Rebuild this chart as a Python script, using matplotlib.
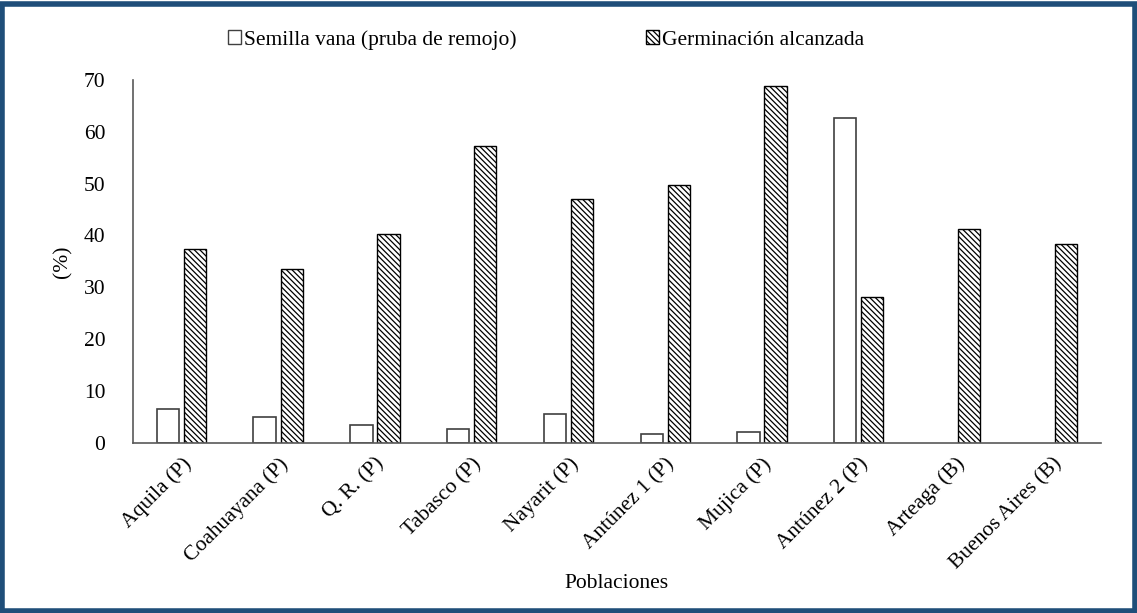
import matplotlib.pyplot as plt
import numpy as np
from matplotlib.patches import Rectangle, Patch

plt.rcParams['font.family'] = ['Liberation Serif', 'DejaVu Serif']
plt.rcParams['hatch.linewidth'] = 0.9

poblaciones = ['Aquila (P)', 'Coahuayana (P)', 'Q. R. (P)', 'Tabasco (P)', 'Nayarit (P)',
               'Antúnez 1 (P)', 'Mujica (P)', 'Antúnez 2 (P)', 'Arteaga (B)', 'Buenos Aires (B)']
semilla_vana = [6.6, 5.0, 3.6, 2.7, 5.6, 1.8, 2.1, 62.7, 0, 0]
germinacion = [37.4, 33.6, 40.3, 57.3, 47.0, 49.7, 68.8, 28.2, 41.3, 38.4]
yticks = [0, 10, 20, 30, 40, 50, 60, 70]

fig = plt.figure(figsize=(11.37, 6.13), dpi=100)
ax = fig.add_axes([0.117, 0.277, 0.851, 0.593])

x = np.arange(len(poblaciones))
w = 0.23
gap = 0.025
vana_edges = ['#404040' if v > 0 else 'none' for v in semilla_vana]
ax.bar(x - w / 2 - gap, semilla_vana, w, facecolor='white', edgecolor=vana_edges, linewidth=1.2,
       label='Semilla vana (pruba de remojo)')
ax.bar(x + w / 2 + gap, germinacion, w, facecolor='white', edgecolor='black', linewidth=1.0,
       hatch='\\\\\\\\\\\\', label='Germinación alcanzada')

ax.set_xlim(-0.5, len(poblaciones) - 0.5)
ax.set_ylim(0, 70)
ax.set_yticks(yticks)
ax.set_xticks(x)
ax.set_xticklabels(poblaciones, rotation=45, ha='right', rotation_mode='anchor')
ax.tick_params(axis='both', length=0, labelsize=15.5, colors='black')
ax.tick_params(axis='y', pad=20)
ax.tick_params(axis='x', pad=8)
for s in ['top', 'right']:
    ax.spines[s].set_visible(False)
for s in ['left', 'bottom']:
    ax.spines[s].set_color('#595959')
    ax.spines[s].set_linewidth(1.2)

ax.set_xlabel('Poblaciones', fontsize=15.5, labelpad=0)
ax.set_ylabel('(%)', fontsize=15.5, labelpad=8)

handles = [Patch(facecolor='white', edgecolor='#404040', linewidth=1.0),
           Patch(facecolor='white', edgecolor='black', hatch='\\\\\\\\\\\\', linewidth=1.0)]
fig.legend(handles, ['Semilla vana (pruba de remojo)', 'Germinación alcanzada'],
           loc='center', bbox_to_anchor=(0.48, 0.935), ncol=2, frameon=False, fontsize=15.5,
           handlelength=0.6, handleheight=0.6, handletextpad=0.15, columnspacing=6.0)

fig.patches.append(Rectangle((0.002, 0.004), 0.996, 0.99, transform=fig.transFigure,
                             fill=False, edgecolor='#1f4e79', linewidth=4))

fig.savefig('out.png', dpi=100)
